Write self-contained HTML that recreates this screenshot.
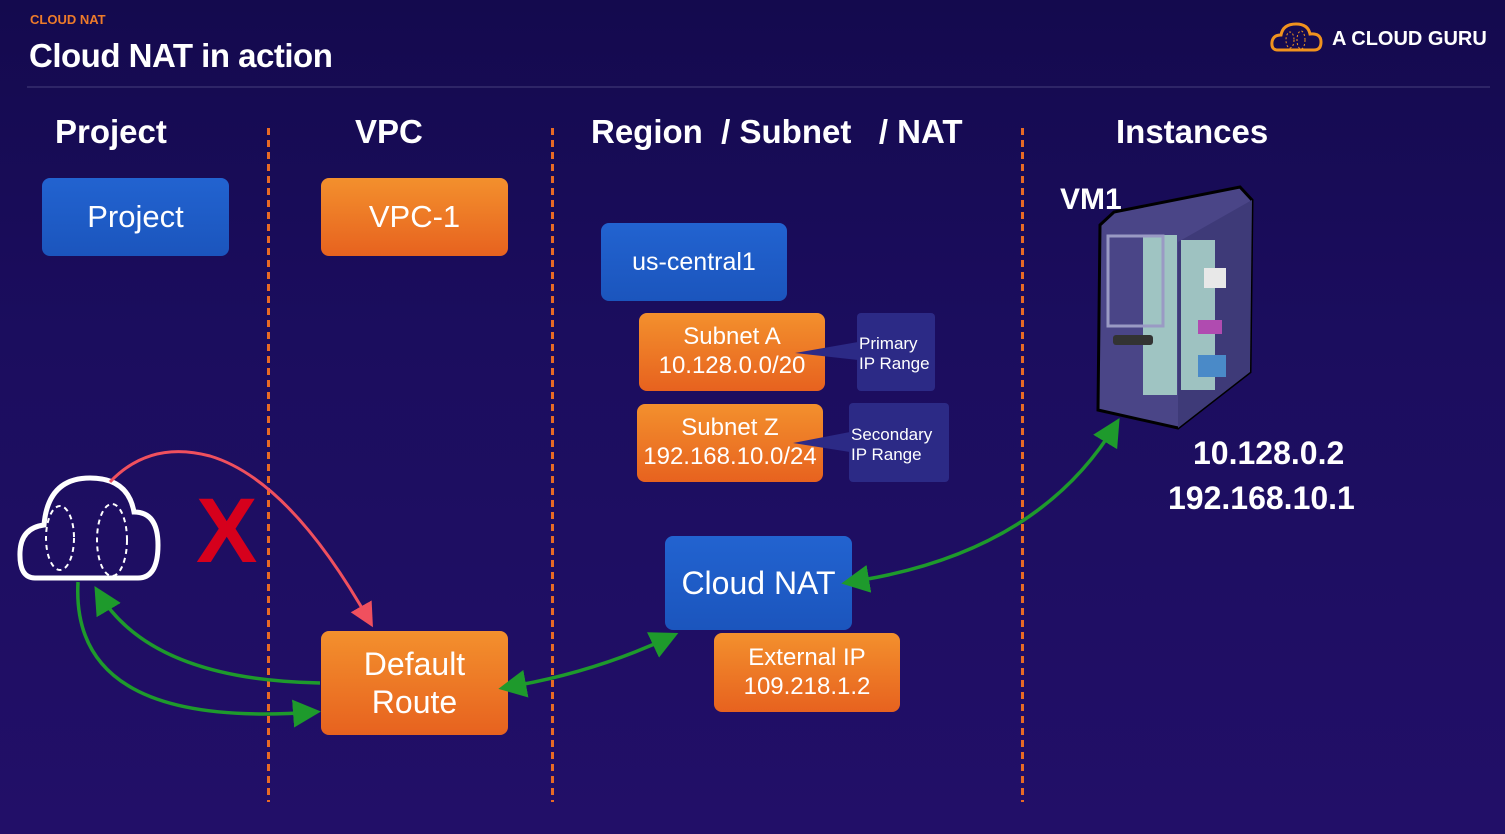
<!DOCTYPE html>
<html><head><meta charset="utf-8"><style>
html,body{margin:0;padding:0}
body{width:1505px;height:834px;overflow:hidden;position:relative;font-family:"Liberation Sans",sans-serif;
background:linear-gradient(180deg,#140a4e 0%,#1b0d5e 40%,#220f68 100%);}
.a{position:absolute}
.box{position:absolute;border-radius:8px;color:#fff;display:flex;align-items:center;justify-content:center;text-align:center;line-height:1.2}
.blue{background:linear-gradient(180deg,#2263d0,#1b55bd)}
.or{background:linear-gradient(180deg,#f3902d,#e7621f)}
.pur{background:#2c2a86;border-radius:4px;color:#fff;position:absolute;font-size:17px;line-height:20px}
.h{position:absolute;color:#fff;font-weight:bold;font-size:33px;top:113px}
</style></head><body>
<div class="a" style="left:30px;top:12px;color:#ee7b2a;font-size:13px;font-weight:bold">CLOUD NAT</div>
<div class="a" style="left:29px;top:37px;color:#fff;font-size:33px;font-weight:bold;letter-spacing:-0.5px">Cloud NAT in action</div>
<div class="a" style="left:27px;top:86px;width:1463px;height:2px;background:#2e2567"></div>
<svg class="a" style="left:1270px;top:20px" width="56" height="34" viewBox="0 0 56 34"><path d="M8 30 Q1 30 2 22 Q3 15 11 15 Q13 4 26 4 Q38 4 40 14 Q51 13 51 22 Q51 30 44 30 Z" fill="none" stroke="#f0921e" stroke-width="3"/><ellipse cx="20" cy="20" rx="4" ry="8" fill="none" stroke="#f0921e" stroke-dasharray="2 2"/><ellipse cx="31" cy="20" rx="4" ry="9" fill="none" stroke="#f0921e" stroke-dasharray="2 2"/></svg>
<div class="a" style="left:1332px;top:28px;color:#fff;font-size:20px;font-weight:bold">A CLOUD GURU</div>

<div class="h" style="left:55px">Project</div>
<div class="h" style="left:355px">VPC</div>
<div class="h" style="left:591px">Region &nbsp;/ Subnet &nbsp;&nbsp;/ NAT</div>
<div class="h" style="left:1116px">Instances</div>
<svg class="a" style="left:0;top:0" width="1505" height="834">
<g stroke="#e86a25" stroke-width="3" stroke-dasharray="7 5">
<line x1="268.5" y1="128" x2="268.5" y2="802"/>
<line x1="552.5" y1="128" x2="552.5" y2="802"/>
<line x1="1022.5" y1="128" x2="1022.5" y2="802"/>
</g></svg>

<div class="box blue" style="left:42px;top:178px;width:187px;height:78px;font-size:31px">Project</div>
<div class="box or" style="left:321px;top:178px;width:187px;height:78px;font-size:31px">VPC-1</div>
<div class="box blue" style="left:601px;top:223px;width:186px;height:78px;font-size:25px">us-central1</div>
<div class="box or" style="left:639px;top:313px;width:186px;height:78px;font-size:24px">Subnet A<br>10.128.0.0/20</div>
<div class="box or" style="left:637px;top:404px;width:186px;height:78px;font-size:24px">Subnet Z<br>192.168.10.0/24</div>
<div class="pur" style="left:857px;top:313px;width:78px;height:78px;"><div style="padding:21px 0 0 2px">Primary<br>IP Range</div></div>
<div class="pur" style="left:849px;top:403px;width:100px;height:79px;"><div style="padding:22px 0 0 2px">Secondary<br>IP Range</div></div>
<svg class="a" style="left:0;top:0" width="1505" height="834">
<polygon points="795,353 858,342 858,360" fill="#2c2a86"/>
<polygon points="793,443 850,432 850,452" fill="#2c2a86"/>
</svg>
<div class="box blue" style="left:665px;top:536px;width:187px;height:94px;font-size:32px">Cloud NAT</div>
<div class="box or" style="left:714px;top:633px;width:186px;height:79px;font-size:24px">External IP<br>109.218.1.2</div>
<div class="box or" style="left:321px;top:631px;width:187px;height:104px;font-size:32px">Default<br>Route</div>

<svg class="a" style="left:0;top:0" width="1505" height="834">
<defs>
<marker id="g" markerWidth="8" markerHeight="8" refX="6" refY="4" orient="auto" markerUnits="strokeWidth"><path d="M0,0 L8,4 L0,8 Z" fill="#1e9a2c"/></marker>
<marker id="gs" markerWidth="8" markerHeight="8" refX="2" refY="4" orient="auto-start-reverse" markerUnits="strokeWidth"><path d="M0,0 L8,4 L0,8 Z" fill="#1e9a2c"/></marker>
<marker id="r" markerWidth="8" markerHeight="8" refX="6" refY="4" orient="auto" markerUnits="strokeWidth"><path d="M0,0 L8,4 L0,8 Z" fill="#f0505e"/></marker>
</defs>
<polygon points="1100,225 1114,212 1240,187 1252,200 1250,372 1178,428 1098,410" fill="#4a4587" stroke="#000" stroke-width="3"/>
<polygon points="1178,242 1252,200 1250,372 1178,428" fill="#3e3a78"/>
<rect x="1143" y="235" width="34" height="160" fill="#a9d2c9" opacity="0.9"/>
<rect x="1181" y="240" width="34" height="150" fill="#a9d2c9" opacity="0.9"/>
<rect x="1108" y="236" width="55" height="90" fill="none" stroke="#9a9ac4" stroke-width="3"/>
<rect x="1113" y="335" width="40" height="10" rx="3" fill="#333"/>
<rect x="1204" y="268" width="22" height="20" fill="#e8e8e8"/>
<rect x="1198" y="320" width="24" height="14" fill="#b04bb0"/>
<rect x="1198" y="355" width="28" height="22" fill="#4a8ac8"/>
<path d="M35,578 Q19,578 20,552 Q21,528 44,525 Q48,478 90,478 Q128,478 134,512 Q158,512 158,545 Q158,578 138,578 Z" fill="none" stroke="#fff" stroke-width="5"/>
<ellipse cx="60" cy="538" rx="14" ry="32" fill="none" stroke="#fff" stroke-width="2" stroke-dasharray="5 4"/>
<ellipse cx="112" cy="540" rx="15" ry="36" fill="none" stroke="#fff" stroke-width="2" stroke-dasharray="5 4"/>
<text x="196" y="562" font-family="Liberation Sans" font-weight="bold" font-size="92" fill="#d6001c">X</text>
<path d="M110,482 Q150,440 210,456 Q290,480 370,622" fill="none" stroke="#f0505e" stroke-width="3" marker-end="url(#r)"/>
<path d="M320,683 Q150,680 98,592" fill="none" stroke="#1e9a2c" stroke-width="3.5" marker-end="url(#g)"/>
<path d="M78,582 Q70,730 314,712" fill="none" stroke="#1e9a2c" stroke-width="3.5" marker-end="url(#g)"/>
<path d="M519,685 Q600,670 672,636" fill="none" stroke="#1e9a2c" stroke-width="3.5" marker-start="url(#gs)" marker-end="url(#g)"/>
<path d="M862,580 Q1040,550 1116,424" fill="none" stroke="#1e9a2c" stroke-width="3.5" marker-start="url(#gs)" marker-end="url(#g)"/>
</svg>
<div class="a" style="left:1060px;top:183px;color:#fff;font-size:30px;font-weight:bold">VM1</div>
<div class="a" style="left:1193px;top:435px;color:#fff;font-size:32px;font-weight:bold">10.128.0.2</div>
<div class="a" style="left:1168px;top:480px;color:#fff;font-size:32px;font-weight:bold">192.168.10.1</div>
</body></html>
